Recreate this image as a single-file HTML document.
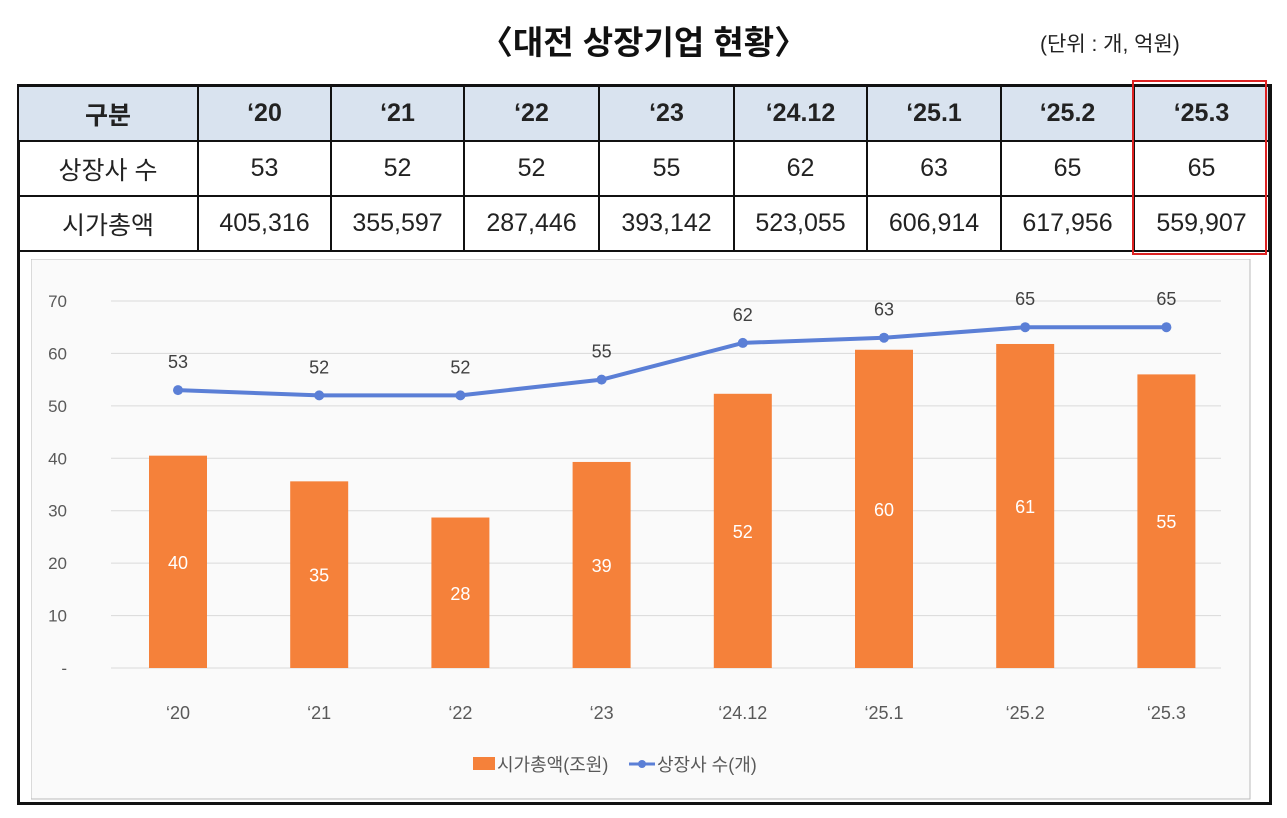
<!DOCTYPE html>
<html><head><meta charset="utf-8">
<style>
body{margin:0;background:#fff;width:1287px;height:818px;overflow:hidden;font-family:"Liberation Sans","Noto Sans CJK KR",sans-serif;}
#title{position:absolute;left:0;width:1287px;top:16px;text-align:center;font-size:33px;font-weight:bold;color:#111;}
#unit{position:absolute;left:1040px;top:28px;font-size:21px;color:#222;}
#frame{position:absolute;left:17px;top:84px;width:1249px;height:718px;border:3px solid #111;border-top:none;}
table{position:absolute;left:17px;top:84px;border-collapse:collapse;font-size:25px;}
td{border:2px solid #111;text-align:center;height:53px;padding:0;color:#222;}
tr.h td{background:#d9e3ef;font-weight:bold;border-top:3px solid #111;}
#hl{position:absolute;left:1132px;top:80px;width:135px;height:175px;border:2px solid #d22;box-sizing:border-box;}
#chart{position:absolute;left:31px;top:259px;}
</style></head><body>
<div id="title">〈대전 상장기업 현황〉</div>
<div id="unit">(단위 : 개, 억원)</div>
<div id="frame"></div>
<table>
<tr class="h"><td style="width:178px">구분</td><td style="width:131px">‘20</td><td style="width:131px">‘21</td><td style="width:133px">‘22</td><td style="width:133px">‘23</td><td style="width:131px">‘24.12</td><td style="width:132px">‘25.1</td><td style="width:131px">‘25.2</td><td style="width:133px">‘25.3</td></tr>
<tr><td>상장사 수</td><td>53</td><td>52</td><td>52</td><td>55</td><td>62</td><td>63</td><td>65</td><td>65</td></tr>
<tr><td>시가총액</td><td>405,316</td><td>355,597</td><td>287,446</td><td>393,142</td><td>523,055</td><td>606,914</td><td>617,956</td><td>559,907</td></tr>
</table>
<div id="hl"></div>
<svg id="chart" width="1220" height="541">
<rect x="0" y="0" width="1219" height="540" fill="#fafafa" stroke="#bbb"/>
<g id="g"></g>
</svg>
<script>
const categories=["‘20","‘21","‘22","‘23","‘24.12","‘25.1","‘25.2","‘25.3"];
const capValues=[40.5,35.6,28.7,39.3,52.3,60.7,61.8,56.0];
const capLabels=["40","35","28","39","52","60","61","55"];
const countValues=[53,52,52,55,62,63,65,65];
const yTicks=[0,10,20,30,40,50,60,70];
const yTickLabels=["-","10","20","30","40","50","60","70"];
const ox=31,oy=259;
const y=v=>668-oy-v*5.243;
const x=i=>178-ox+i*141.2;
const g=document.getElementById('g');
const NS='http://www.w3.org/2000/svg';
function mk(t,a,txt){const e=document.createElementNS(NS,t);for(const k in a)e.setAttribute(k,a[k]);if(txt!==undefined)e.textContent=txt;g.appendChild(e);return e;}
yTicks.forEach((v,i)=>{
 const l=mk('line',{x1:80,x2:1190,y1:y(v),y2:y(v),stroke:'#d9d9d9','stroke-width':1});
 
 
 const t=mk('text',{x:36,y:y(v)+6,'text-anchor':'end','font-size':17,fill:'#595959'},yTickLabels[i]);
 
 
});
categories.forEach((c,i)=>{
 const b=mk('rect',{x:x(i)-29,y:y(capValues[i]),width:58,height:y(0)-y(capValues[i]),fill:'#f5813a'});
 
 
 const bl=mk('text',{x:x(i),y:y(capValues[i]/2)+7,'text-anchor':'middle','font-size':18,fill:'#fff'},capLabels[i]);
 
 
 const xl=mk('text',{x:x(i),y:460,'text-anchor':'middle','font-size':18,fill:'#595959'},c);
 
 
});
const pts=countValues.map((v,i)=>x(i)+','+y(v)).join(' ');
const pl=mk('polyline',{points:pts,fill:'none',stroke:'#5b7fd6','stroke-width':4,'stroke-linejoin':'round'});


countValues.forEach((v,i)=>{
 const p=mk('circle',{cx:x(i),cy:y(v),r:5,fill:'#5b7fd6'});
 
 
 const t=mk('text',{x:x(i),y:y(v)-22,'text-anchor':'middle','font-size':18,fill:'#404040'},String(v));
 
 
});
const lr=mk('rect',{x:442,y:498,width:22,height:13,fill:'#f5813a'});


const lt=mk('text',{x:466,y:512,'font-size':18,fill:'#595959'},'시가총액(조원)');


const ll=mk('line',{x1:598,x2:624,y1:505,y2:505,stroke:'#5b7fd6','stroke-width':3});


const lc=mk('circle',{cx:611,cy:505,r:4,fill:'#5b7fd6'});


const lt2=mk('text',{x:626,y:512,'font-size':18,fill:'#595959'},'상장사 수(개)');


</script>
</body></html>
